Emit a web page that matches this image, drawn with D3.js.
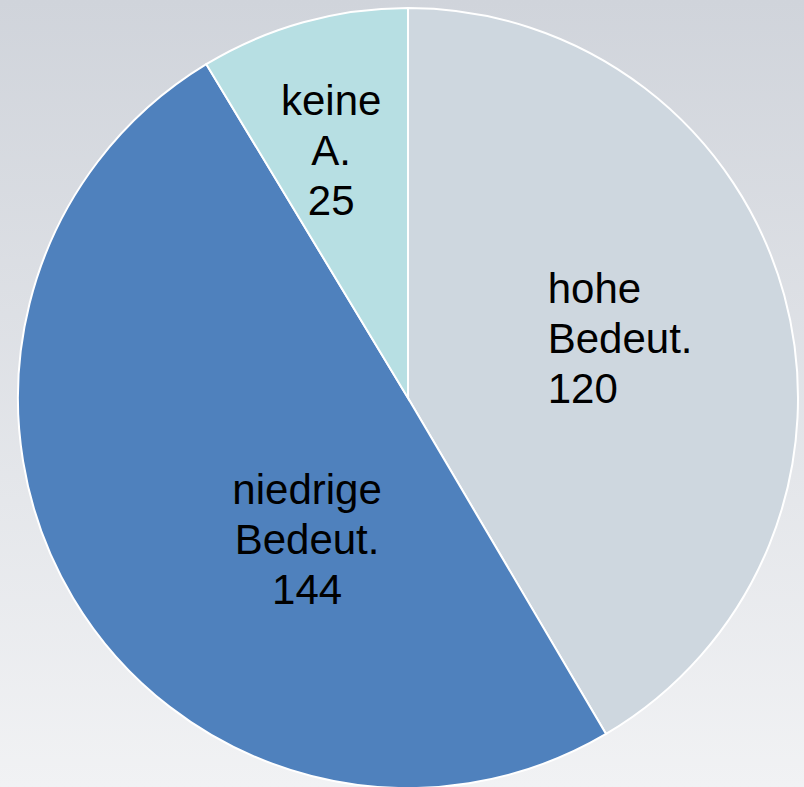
<!DOCTYPE html>
<html>
<head>
<meta charset="utf-8">
<script src="https://cdn.jsdelivr.net/npm/d3@7"></script>
<style>
	html, body { margin: 0; padding: 0; overflow: hidden; }
	svg { display: block; }
</style>
</head>
<body>
<svg></svg>
<script>
// data
const categories = ['hohe Bedeut.', 'niedrige Bedeut.', 'keine A.'];
const values = [120, 144, 25];
const labelLines = [['hohe', 'Bedeut.'], ['niedrige', 'Bedeut.'], ['keine', 'A.']];

const colors = ['#CED7DF', '#4F81BD', '#B7DFE3'];

let width = 804;
let height = 787;
let cx = 408, cy = 398, radius = 390;

let svg = d3.select('svg')
	.attr('width', width)
	.attr('height', height);

let defs = svg.append('defs');
let grad = defs.append('linearGradient')
	.attr('id', 'bg')
	.attr('x1', 0).attr('y1', 0)
	.attr('x2', 0).attr('y2', 1);
grad.append('stop').attr('offset', '0%').attr('stop-color', '#D0D4DB');
grad.append('stop').attr('offset', '100%').attr('stop-color', '#F1F2F4');

svg.append('rect')
	.attr('width', width)
	.attr('height', height)
	.attr('fill', 'url(#bg)');

let data = categories.map((c, i) => ({ name: c, value: values[i], lines: labelLines[i].concat([String(values[i])]) }));

let pie = d3.pie()
	.sort(null)
	.value(d => d.value);

let arc = d3.arc()
	.innerRadius(0)
	.outerRadius(radius);

let labelArc = d3.arc()
	.innerRadius(radius * 0.6)
	.outerRadius(radius * 0.6);

// small nudges so labels sit where the original placed them
let labelNudge = [[-14, 3, 'start'], [100, 22, 'middle'], [-14, -22, 'middle']];

let g = svg.append('g')
	.attr('transform', `translate(${cx},${cy})`);

let arcs = pie(data);

g.selectAll('path')
	.data(arcs)
	.enter()
	.append('path')
	.attr('d', arc)
	.attr('fill', (d, i) => colors[i])
	.attr('stroke', '#fff')
	.attr('stroke-width', 2);

let lineH = 50;
let labels = g.selectAll('text')
	.data(arcs)
	.enter()
	.append('text')
	.attr('font-family', 'Liberation Sans, Arial, sans-serif')
	.attr('font-size', 42)
	.attr('fill', '#000')
	.attr('text-anchor', (d, i) => labelNudge[i][2])
	.attr('transform', function(d, i) {
		let c = labelArc.centroid(d);
		let x = c[0] + labelNudge[i][0];
		let y = c[1] + labelNudge[i][1];
		// left aligned block: shift to block's left edge
		if (labelNudge[i][2] === 'start') x -= 72;
		return `translate(${x},${y})`;
	});

labels.each(function(d) {
	let t = d3.select(this);
	d.data.lines.forEach((line, j) => {
		t.append('tspan')
			.attr('x', 0)
			.attr('y', (j - 1) * lineH + 14)
			.text(line);
	});
});
</script>
</body>
</html>
